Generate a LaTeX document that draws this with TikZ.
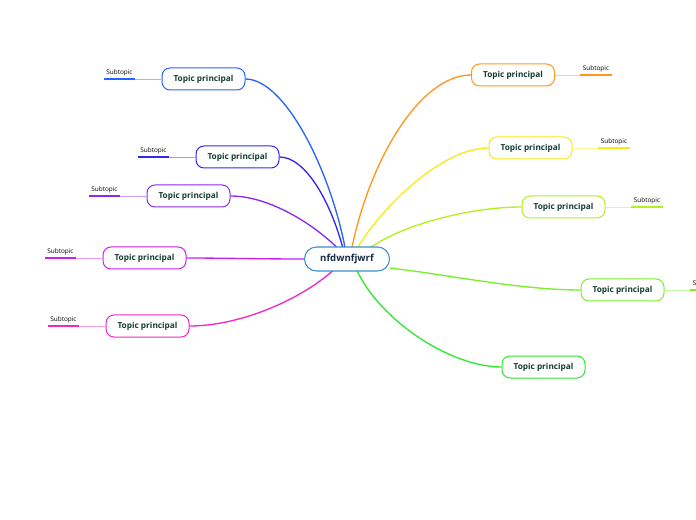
\documentclass[tikz,border=0pt]{standalone}
\usepackage{fontspec}
\setmainfont{Open Sans}
\usepackage{xcolor}
\usepackage{tikz}
\usetikzlibrary{calc,backgrounds}

\definecolor{cBlue}{RGB}{40,100,250}
\definecolor{cIndigo}{RGB}{50,40,240}
\definecolor{cPurple}{RGB}{140,40,240}
\definecolor{cViolet}{RGB}{205,30,240}
\definecolor{cPink}{RGB}{240,40,200}
\definecolor{cOrange}{RGB}{255,150,30}
\definecolor{cYellow}{RGB}{250,235,20}
\definecolor{cLime}{RGB}{180,240,30}
\definecolor{cGreen}{RGB}{120,240,40}
\definecolor{cGreenB}{RGB}{50,230,50}
\definecolor{centerdraw}{RGB}{60,140,200}
\definecolor{topictext}{RGB}{20,60,50}
\definecolor{centertext}{RGB}{25,45,70}

\begin{document}
\begin{tikzpicture}[
  x=0.75pt, y=-0.75pt,
  centerbox/.style={draw=centerdraw, line width=0.8pt, rounded corners=9pt,
    fill=white, minimum width=63.75pt, minimum height=18pt, inner sep=0pt,
    font=\fontsize{7.2}{8}\selectfont\bfseries, text=centertext},
  topicbox/.style={draw=#1, line width=0.75pt, rounded corners=6pt,
    fill=white, minimum width=62.25pt, minimum height=16.5pt, inner sep=0pt,
    font=\fontsize{6.2}{7}\selectfont\bfseries, text=topictext},
  branch/.style={draw=#1, line width=1pt},
  subfaint/.style={draw=#1!45, line width=0.6pt},
  subdark/.style={draw=#1, line width=1.4pt},
  sublabel/.style={font=\fontsize{4.8}{5}\selectfont, inner sep=1.5pt, anchor=south},
]
\useasboundingbox (0,0) rectangle (696,520);

% ── Central topic ─────────────────────────────────────────────────────────────
\node[centerbox] (c) at (347,259) {nfdwnfjwrf};

% ── Main topics, left ─────────────────────────────────────────────────────────
\node[topicbox=cBlue]   (t1) at (203.5,79)  {Topic principal};
\node[topicbox=cIndigo] (t2) at (237.5,157) {Topic principal};
\node[topicbox=cPurple] (t3) at (188.5,196) {Topic principal};
\node[topicbox=cViolet] (t4) at (144.5,258) {Topic principal};
\node[topicbox=cPink]   (t5) at (147.5,326) {Topic principal};

% ── Main topics, right ────────────────────────────────────────────────────────
\node[topicbox=cOrange] (t6)  at (513,75)    {Topic principal};
\node[topicbox=cYellow] (t7)  at (530.5,148) {Topic principal};
\node[topicbox=cLime]   (t8)  at (563.5,207) {Topic principal};
\node[topicbox=cGreen]  (t9)  at (622.5,290) {Topic principal};
\node[topicbox=cGreenB] (t10) at (543.5,367) {Topic principal};

% ── Branches (behind the boxes) ───────────────────────────────────────────────
\begin{pgfonlayer}{background}
\draw[branch=cBlue]   ($(c.north)+(-2,1)$) .. controls (330,170) and (285,79) .. (t1.east);
\draw[branch=cIndigo] ($(c.north)+(-4,2)$) .. controls (330,200) and (305,157) .. (t2.east);
\draw[branch=cPurple] ($(c.north)+(-7,4)$) .. controls (315,225) and (270,196) .. (t3.east);
\draw[branch=cViolet] (c.west) .. controls (260,259) and (220,258) .. (t4.east);
\draw[branch=cPink]   ($(c.south)+(-14,-1)$) .. controls (300,300) and (240,326) .. (t5.east);
\draw[branch=cOrange] ($(c.north)+(5,1)$) .. controls (370,160) and (420,75) .. (t6.west);
\draw[branch=cYellow] ($(c.north)+(10,2)$) .. controls (380,210) and (440,148) .. (t7.west);
\draw[branch=cLime]   ($(c.north)+(21,3)$) .. controls (400,225) and (470,207) .. (t8.west);
\draw[branch=cGreen]  ($(c.east)+(0,9)$) .. controls (450,275) and (520,290) .. (t9.west);
\draw[branch=cGreenB] ($(c.south)+(10,-1)$) .. controls (380,320) and (450,367) .. (t10.west);
\end{pgfonlayer}

% ── Subtopics, left ───────────────────────────────────────────────────────────
\coordinate (s1m) at (135,79);  \coordinate (s1) at (104,79);
\draw[subfaint=cBlue] (t1.west) -- (s1m);
\draw[subdark=cBlue] (s1m) -- node[sublabel, above] {Subtopic} (s1);

\coordinate (s2m) at (169,157); \coordinate (s2) at (138,157);
\draw[subfaint=cIndigo] (t2.west) -- (s2m);
\draw[subdark=cIndigo] (s2m) -- node[sublabel, above] {Subtopic} (s2);

\coordinate (s3m) at (120,196); \coordinate (s3) at (89,196);
\draw[subfaint=cPurple] (t3.west) -- (s3m);
\draw[subdark=cPurple] (s3m) -- node[sublabel, above] {Subtopic} (s3);

\coordinate (s4m) at (76,258);  \coordinate (s4) at (45,258);
\draw[subfaint=cViolet] (t4.west) -- (s4m);
\draw[subdark=cViolet] (s4m) -- node[sublabel, above] {Subtopic} (s4);

\coordinate (s5m) at (79,326);  \coordinate (s5) at (48,326);
\draw[subfaint=cPink] (t5.west) -- (s5m);
\draw[subdark=cPink] (s5m) -- node[sublabel, above] {Subtopic} (s5);

% ── Subtopics, right ──────────────────────────────────────────────────────────
\coordinate (s6m) at (580,75);  \coordinate (s6) at (612,75);
\draw[subfaint=cOrange] (t6.east) -- (s6m);
\draw[subdark=cOrange] (s6m) -- node[sublabel, above] {Subtopic} (s6);

\coordinate (s7m) at (598,148); \coordinate (s7) at (630,148);
\draw[subfaint=cYellow] (t7.east) -- (s7m);
\draw[subdark=cYellow] (s7m) -- node[sublabel, above] {Subtopic} (s7);

\coordinate (s8m) at (631,207); \coordinate (s8) at (663,207);
\draw[subfaint=cLime] (t8.east) -- (s8m);
\draw[subdark=cLime] (s8m) -- node[sublabel, above] {Subtopic} (s8);

\coordinate (s9m) at (690,290); \coordinate (s9) at (722,290);
\draw[subfaint=cGreen] (t9.east) -- (s9m);
\draw[subdark=cGreen] (s9m) -- node[sublabel, above] {Subtopic} (s9);

\end{tikzpicture}
\end{document}
